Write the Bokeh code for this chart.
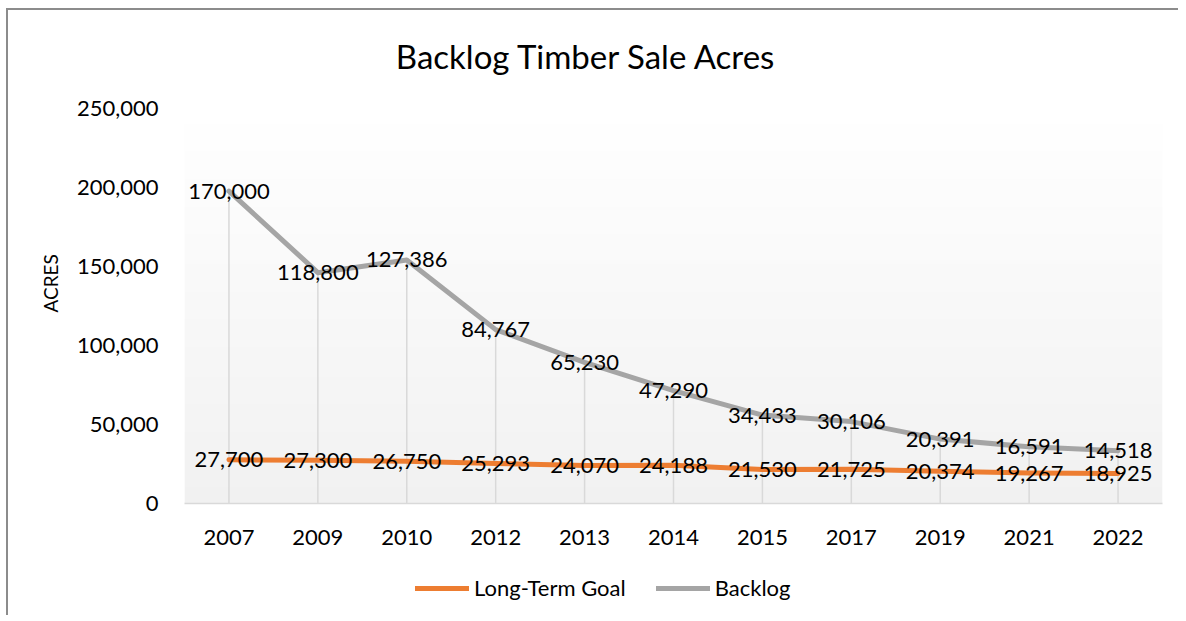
import numpy as np
from bokeh.plotting import figure
from bokeh.layouts import column
from bokeh.models import (FactorRange, Range1d, FixedTicker, NumeralTickFormatter,
                          Title, Label, Legend, LegendItem, ColumnDataSource)
from bokeh.core.properties import value
from bokeh.embed import file_html
from bokeh.resources import INLINE

# ---- data ----
years = ["2007", "2009", "2010", "2012", "2013", "2014", "2015", "2017", "2019", "2021", "2022"]
long_term_goal = [27700, 27300, 26750, 25293, 24070, 24188, 21530, 21725, 20374, 19267, 18925]
backlog = [170000, 118800, 127386, 84767, 65230, 47290, 34433, 30106, 20391, 16591, 14518]
y_ticks = [0, 50000, 100000, 150000, 200000, 250000]
title_text = "Backlog Timber Sale Acres"
y_label = "ACRES"
series_names = ["Long-Term Goal", "Backlog"]

# stacked line: backlog drawn on top of goal
stacked = [g + b for g, b in zip(long_term_goal, backlog)]

FONT = "Lato"
ORANGE = "#ED7D31"
GRAY = "#A5A5A5"
Y_MAX = 250000
Y_TOP = Y_MAX * 408 / 395  # small headroom so the top tick label is not nudged


def strip(h, x_range, y_range):
    f = figure(width=1170, height=h, output_backend="svg", toolbar_location=None,
               x_range=x_range, y_range=y_range,
               min_border=0, min_border_left=0, min_border_right=0,
               min_border_top=0, min_border_bottom=0)
    f.axis.visible = False
    f.grid.visible = False
    f.outline_line_color = None
    f.background_fill_color = "white"
    f.border_fill_color = "white"
    return f


# ---- title strip ----
ts = strip(80, Range1d(0, 1), Range1d(0, 1))
ts.add_layout(Label(x=402, y=35, x_units="screen", y_units="screen", text=title_text,
                    text_align="center", text_baseline="middle", text_font=FONT,
                    text_font_size="33px", text_color="black"))

# ---- main chart ----
p = figure(width=1170, height=480, output_backend="svg", toolbar_location=None,
           x_range=FactorRange(factors=years, range_padding=0),
           y_range=Range1d(0, Y_TOP),
           min_border_left=176, min_border_right=16, min_border_top=5, min_border_bottom=67)
p.outline_line_color = None
p.xgrid.visible = False
p.ygrid.visible = False
p.background_fill_color = "white"
p.border_fill_color = "white"

# gradient background of plot area (white at top -> light gray at bottom)
n = 200
rgba = np.zeros((n, 1), dtype=np.uint32)
view = rgba.view(dtype=np.uint8).reshape((n, 1, 4))
for i in range(n):
    t = i / (n - 1)  # 0 at bottom, 1 at top
    c = int(round(241 + (255 - 241) * t))
    view[i, 0, :] = [c, c, c, 255]
p.image_rgba(image=[rgba], x=0, y=0, dw=len(years), dh=Y_MAX)

src = ColumnDataSource(dict(year=years, goal=long_term_goal, backlog=backlog, total=stacked,
                            goal_lbl=[f"{v:,}" for v in long_term_goal],
                            back_lbl=[f"{v:,}" for v in backlog]))

# drop lines
p.segment(x0="year", y0=0, x1="year", y1="total", source=src, line_color="#d9d9d9", line_width=1.5)

p.line(x="year", y="goal", source=src, line_color=ORANGE, line_width=5, line_cap="round", line_join="round")
p.line(x="year", y="total", source=src, line_color=GRAY, line_width=5, line_cap="round", line_join="round")

# data labels
p.text(x="year", y="goal", text="goal_lbl", source=src, text_align="center", text_baseline="middle",
       text_font=value(FONT), text_font_size="22px", text_color="black")
p.text(x="year", y="total", text="back_lbl", source=src, text_align="center", text_baseline="middle",
       text_font=value(FONT), text_font_size="22px", text_color="black")

# axes
p.yaxis.ticker = FixedTicker(ticks=y_ticks)
p.yaxis.formatter = NumeralTickFormatter(format="0,0")
p.yaxis.axis_line_color = None
p.yaxis.major_tick_line_color = None
p.yaxis.minor_tick_line_color = None
p.yaxis.major_label_standoff = 20
p.yaxis.major_label_text_font = FONT
p.yaxis.major_label_text_font_size = "22px"
p.yaxis.major_label_text_color = "black"

p.xaxis.axis_line_color = "#d9d9d9"
p.xaxis.axis_line_width = 1.5
p.xaxis.major_tick_line_color = None
p.xaxis.minor_tick_line_color = None
p.xaxis.major_label_standoff = 20
p.xaxis.major_label_text_font = FONT
p.xaxis.major_label_text_font_size = "22px"
p.xaxis.major_label_text_color = "black"

# y axis title (as a side title so it can sit off-centre like the original)
p.add_layout(Title(text=y_label, align="left", offset=191, standoff=24,
                   text_font=FONT, text_font_size="19px", text_font_style="normal",
                   text_color="black"), "left")

# ---- legend strip (series drawn out of view, only the legend shows) ----
lg = strip(45, FactorRange(factors=years, range_padding=0), Range1d(-2, -1))
l1 = lg.line(x="year", y="goal", source=src, line_color=ORANGE, line_width=5, line_cap="round")
l2 = lg.line(x="year", y="total", source=src, line_color=GRAY, line_width=5, line_cap="round")
legend = Legend(items=[LegendItem(label=series_names[0], renderers=[l1]),
                       LegendItem(label=series_names[1], renderers=[l2])],
                location=(231, 14), orientation="horizontal", padding=0, margin=0,
                glyph_width=54, glyph_height=20, label_height=20, label_standoff=5, spacing=30,
                label_text_font=FONT, label_text_font_size="22px", label_text_color="black",
                border_line_color=None, background_fill_alpha=0)
lg.add_layout(legend, "center")

layout = column(ts, p, lg, spacing=0)
layout.styles = {"margin-left": "6px", "margin-top": "8px",
                 "border-left": "2px solid #8c8c8c", "border-top": "2px solid #8c8c8c"}

open("out.html", "w").write(file_html(layout, INLINE))
